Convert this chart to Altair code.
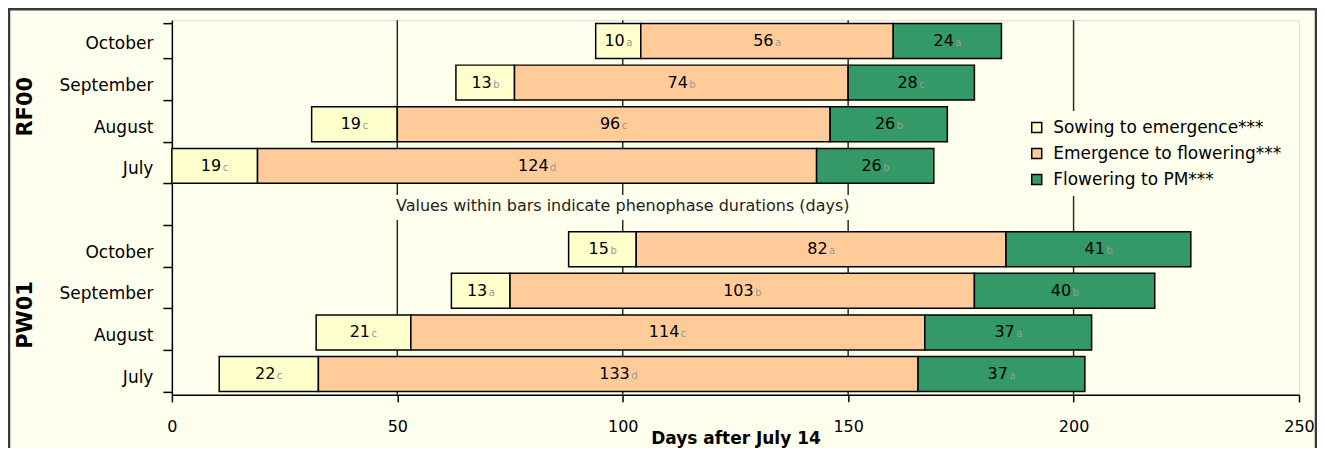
import altair as alt
import pandas as pd

# ---------------- data ----------------
groups = ["RF00", "PW01"]
months = ["October", "September", "August", "July"]
phases = ["Sowing to emergence***", "Emergence to flowering***", "Flowering to PM***"]
colors = ["#FFFFCC", "#FFCC99", "#339966"]

rf00_start = [94, 63, 31, 0]
pw01_start = [88, 62, 32, 10.5]

rf00_sow = [10, 13, 19, 19]
pw01_sow = [15, 13, 21, 22]
rf00_emf = [56, 74, 96, 124]
pw01_emf = [82, 103, 114, 133]
rf00_flw = [24, 28, 26, 26]
pw01_flw = [41, 40, 37, 37]

rf00_sow_let = ["a", "b", "c", "c"]
pw01_sow_let = ["b", "a", "c", "c"]
rf00_emf_let = ["a", "b", "c", "d"]
pw01_emf_let = ["a", "b", "c", "d"]
rf00_flw_let = ["a", "c", "b", "b"]
pw01_flw_let = ["b", "b", "a", "a"]

grid_values = [50, 100, 150, 200]
x_ticks = [0, 50, 100, 150, 200, 250]
note = "Values within bars indicate phenophase durations (days)"
x_title = "Days after July 14"

BG = "#FFFFEE"
FONT = "DejaVu Sans"

# ---------------- tables ----------------
table = {
    "RF00": (rf00_start, [rf00_sow, rf00_emf, rf00_flw], [rf00_sow_let, rf00_emf_let, rf00_flw_let]),
    "PW01": (pw01_start, [pw01_sow, pw01_emf, pw01_flw], [pw01_sow_let, pw01_emf_let, pw01_flw_let]),
}
rows = []
for g in groups:
    starts, durs, lets = table[g]
    for i, m in enumerate(months):
        s = starts[i]
        for p in range(3):
            e = s + durs[p][i]
            rows.append({
                "yid": f"{g}|{m}", "phase": phases[p], "start": s, "end": e,
                "mid": (s + e) / 2, "num": str(durs[p][i]), "let": lets[p][i],
            })
            s = e
bars_df = pd.DataFrame(rows)

y_domain = [f"RF00|{m}" for m in months] + ["gap"] + [f"PW01|{m}" for m in months]

yscale = alt.Scale(domain=y_domain, paddingInner=0.16, paddingOuter=0.08)
xscale = alt.Scale(domain=[0, 250], nice=False, zero=False)

xaxis = alt.Axis(values=x_ticks, grid=False, tickSize=7, tickWidth=1.5, tickColor="black",
                 domainColor="black", domainWidth=1.5, labelPadding=17, labelFontSize=16,
                 labelColor="black", labelFont=FONT, labelFlush=False, title=x_title,
                 titleFontSize=17, titleFontWeight="bold", titleFont=FONT, titleColor="black",
                 titleBaseline="middle", titleY=44)
yaxis = alt.Axis(title=None, grid=False, tickBand="extent", tickSize=9, tickWidth=1.5,
                 tickColor="black", domainColor="black", domainWidth=1.5, labelPadding=10,
                 labelFontSize=17, labelColor="black", labelFont=FONT, labelOffset=3,
                 labelExpr="indexof(datum.label,'|')>=0 ? split(datum.label,'|')[1] : ''")

X = lambda f: alt.X(f, scale=xscale, axis=xaxis)
Y = lambda f, **kw: alt.Y(f, scale=yscale, axis=yaxis, **kw)

# frame around whole chart
frame = alt.Chart(pd.DataFrame({"k": [0]})).mark_rect(
    fill="transparent", stroke="#3a3a3a", strokeWidth=2.5
).encode(x=alt.value(-163), x2=alt.value(1145), y=alt.value(-11), y2=alt.value(460))

grid = alt.Chart(pd.DataFrame({"g": grid_values})).mark_rule(
    color="#2a2a2a", strokeWidth=1.5
).encode(x=X("g:Q"))

note_df = pd.DataFrame({"yid": ["gap"], "x": [100.0], "x1": [49.0], "x2": [152.0], "txt": [note]})
note_bg = alt.Chart(note_df).mark_bar(color=BG, size=25).encode(
    x=X("x1:Q"), x2="x2:Q", y=Y("yid:N"))
note_txt = alt.Chart(note_df).mark_text(fontSize=16, font=FONT, color="#222", dy=-2).encode(
    x=X("x:Q"), y=Y("yid:N"), text="txt:N")

bars = alt.Chart(bars_df).mark_bar(stroke="black", strokeWidth=1.5).encode(
    x=X("start:Q"), x2="end:Q", y=Y("yid:N"),
    color=alt.Color("phase:N", scale=alt.Scale(domain=phases, range=colors),
                    legend=alt.Legend(orient="none", legendX=849, legendY=91, title=None,
                                      fillColor=BG, padding=8, labelFontSize=17,
                                      labelFont=FONT, labelColor="black", labelLimit=0,
                                      symbolType="square", symbolSize=100,
                                      symbolStrokeColor="black", symbolStrokeWidth=1.5,
                                      rowPadding=8, labelOffset=8)),
)

base_lbl = alt.Chart(bars_df)
num2 = base_lbl.transform_filter("length(datum.num) == 2").mark_text(
    align="right", dx=6.5, fontSize=16, font=FONT, color="black").encode(
    x=X("mid:Q"), y=Y("yid:N"), text="num:N")
num3 = base_lbl.transform_filter("length(datum.num) == 3").mark_text(
    align="right", dx=11.5, fontSize=16, font=FONT, color="black").encode(
    x=X("mid:Q"), y=Y("yid:N"), text="num:N")
let2 = base_lbl.transform_filter("length(datum.num) == 2").mark_text(
    align="left", dx=8, dy=2, fontSize=10, font=FONT, color="#9a9a9a").encode(
    x=X("mid:Q"), y=Y("yid:N"), text="let:N")
let3 = base_lbl.transform_filter("length(datum.num) == 3").mark_text(
    align="left", dx=13, dy=2, fontSize=10, font=FONT, color="#9a9a9a").encode(
    x=X("mid:Q"), y=Y("yid:N"), text="let:N")

grp_df = pd.DataFrame({"grp": groups, "yid": [f"{g}|August" for g in groups]})
grp = alt.Chart(grp_df).mark_text(angle=270, fontSize=21, fontWeight="bold", font=FONT,
                                  color="black", baseline="middle").encode(
    x=alt.value(-146), y=Y("yid:N", bandPosition=0), text="grp:N")

chart = alt.layer(frame, grid, note_bg, note_txt, bars, num2, num3, let2, let3, grp).properties(
    width=1128, height=375,
    autosize=alt.AutoSizeParams(type="none"),
    padding={"left": 164, "top": 12, "right": 18, "bottom": 53},
    background=BG,
).configure_view(stroke="#a0a0a0", strokeWidth=2).configure(font=FONT)

chart.save("out.html", embed_options={"renderer": "svg", "actions": False})
